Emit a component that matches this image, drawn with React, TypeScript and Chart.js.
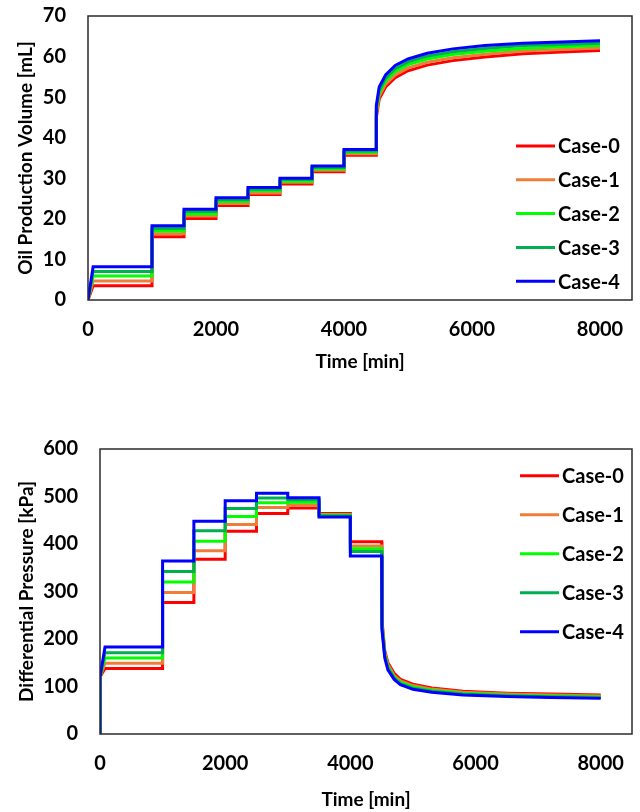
import React, { useEffect, useRef } from "react";
import { Chart, registerables } from "chart.js";

Chart.register(...registerables);

// ---------- data ----------
const caseLabels = ["Case-0", "Case-1", "Case-2", "Case-3", "Case-4"];
const caseColors = ["#FF0000", "#F07C3A", "#00FF00", "#00B050", "#0000FF"];

// plateau boundaries (min)
const stepBounds = [80, 1000, 1500, 2000, 2500, 3000, 3500, 4000, 4500];

// Oil production volume [mL] – plateau values per step
const oilCase0Steps = [3.5, 15.6, 20.1, 23.3, 26.0, 28.6, 31.6, 35.7];
const oilCase1Steps = [4.7, 16.3, 20.7, 23.8, 26.4, 29.0, 31.95, 36.05];
const oilCase2Steps = [5.9, 17.0, 21.2, 24.3, 26.9, 29.3, 32.3, 36.4];
const oilCase3Steps = [7.0, 17.6, 21.8, 24.7, 27.3, 29.7, 32.65, 36.75];
const oilCase4Steps = [8.2, 18.3, 22.35, 25.2, 27.7, 30.0, 33.0, 37.1];

// Oil production tail after 4500 min
const oilTailTime = [4505, 4550, 4650, 4800, 5000, 5300, 5700, 6200, 6800, 7400, 8000];
const oilCase0Tail = [45.0, 49.5, 52.5, 54.8, 56.5, 57.9, 59.0, 59.9, 60.7, 61.1, 61.5];
const oilCase1Tail = [45.8, 50.2, 53.2, 55.5, 57.2, 58.6, 59.7, 60.6, 61.35, 61.75, 62.1];
const oilCase2Tail = [46.5, 51.0, 54.0, 56.3, 58.0, 59.4, 60.5, 61.3, 62.0, 62.4, 62.7];
const oilCase3Tail = [47.2, 51.7, 54.7, 57.0, 58.7, 60.1, 61.2, 62.0, 62.7, 63.0, 63.3];
const oilCase4Tail = [48.0, 52.5, 55.5, 57.8, 59.4, 60.8, 61.9, 62.7, 63.3, 63.6, 63.9];

// Differential pressure [kPa] – plateau values per step
const dpCase0Steps = [138, 277, 368, 427, 464, 476, 464, 405];
const dpCase1Steps = [149, 298, 386, 441, 477, 482, 462, 396];
const dpCase2Steps = [160, 320, 406, 458, 487, 488, 461, 390];
const dpCase3Steps = [171, 342, 428, 475, 497, 493, 459, 384];
const dpCase4Steps = [183, 364, 448, 491, 507, 497.5, 457, 375];
const dpStartValues = [0, 120];

// Differential pressure tail after 4500 min
const dpTailTime = [4505, 4550, 4600, 4700, 4800, 5000, 5300, 5800, 6500, 7200, 8000];
const dpCase0Tail = [240, 175, 150, 128, 115, 105, 97, 90, 86, 84, 82];
const dpCase1Tail = [235, 171, 146, 123, 112, 102, 94.5, 88, 84, 82, 80.2];
const dpCase2Tail = [230, 167, 142, 120, 109, 99, 92, 86, 82, 80, 78.5];
const dpCase3Tail = [225, 164, 139, 118, 106, 96.5, 90, 84, 80.5, 78.5, 76.8];
const dpCase4Tail = [220, 160, 135, 115, 104, 94, 88, 82, 79, 77, 75];

// axes
const xTickValues = [0, 2000, 4000, 6000, 8000];
const xMax = 8500;
const oilYTicks = [0, 10, 20, 30, 40, 50, 60, 70];
const dpYTicks = [0, 100, 200, 300, 400, 500, 600];

const oilSteps = [oilCase0Steps, oilCase1Steps, oilCase2Steps, oilCase3Steps, oilCase4Steps];
const oilTails = [oilCase0Tail, oilCase1Tail, oilCase2Tail, oilCase3Tail, oilCase4Tail];
const dpSteps = [dpCase0Steps, dpCase1Steps, dpCase2Steps, dpCase3Steps, dpCase4Steps];
const dpTails = [dpCase0Tail, dpCase1Tail, dpCase2Tail, dpCase3Tail, dpCase4Tail];

type Pt = { x: number; y: number };

function buildSeries(start: number[], steps: number[], tailT: number[], tailV: number[]): Pt[] {
  const pts: Pt[] = start.map((v) => ({ x: 0, y: v }));
  for (let i = 0; i < steps.length; i++) {
    pts.push({ x: stepBounds[i], y: steps[i] });
    pts.push({ x: stepBounds[i + 1], y: steps[i] });
  }
  for (let i = 0; i < tailT.length; i++) pts.push({ x: tailT[i], y: tailV[i] });
  return pts;
}

const FONT = 'Lato, "Liberation Sans", Arial, sans-serif';

type LegendOpts = {
  lineFromRight: number;
  lineToRight: number;
  textFromRight: number;
  firstRowFromTop: number;
  rowGap: number;
};

const framePlugin = {
  id: "frameAndLegend",
  afterDatasetsDraw(chart: any, _args: any, opts: any) {
    const { ctx, chartArea } = chart;
    ctx.save();
    ctx.strokeStyle = "#2b2b2b";
    ctx.lineWidth = 1.5;
    ctx.strokeRect(chartArea.left, chartArea.top, chartArea.right - chartArea.left, chartArea.bottom - chartArea.top);
    const lg: LegendOpts = opts.legend;
    if (lg) {
      ctx.font = `bold 20px ${FONT}`;
      ctx.textBaseline = "middle";
      ctx.textAlign = "left";
      caseLabels.forEach((label, i) => {
        const y = chartArea.top + lg.firstRowFromTop + i * lg.rowGap;
        ctx.strokeStyle = caseColors[i];
        ctx.lineWidth = 3;
        ctx.beginPath();
        ctx.moveTo(chartArea.right - lg.lineFromRight, y);
        ctx.lineTo(chartArea.right - lg.lineToRight, y);
        ctx.stroke();
        ctx.fillStyle = "#000";
        ctx.fillText(label, chartArea.right - lg.textFromRight, y + 1);
      });
    }
    ctx.restore();
  },
};

type ChartSpec = {
  steps: number[][];
  tails: number[][];
  tailTime: number[];
  start: number[];
  yTicks: number[];
  yTitle: string;
  yWidth: number;
  yTitlePad: number;
  padTop: number;
  padRight: number;
  xHeight: number;
  xTitlePad: number;
  legend: LegendOpts;
};

function makeConfig(s: ChartSpec): any {
  const datasets = caseLabels.map((label, i) => ({
    label,
    data: buildSeries(s.start, s.steps[i], s.tailTime, s.tails[i]),
    borderColor: caseColors[i],
    backgroundColor: caseColors[i],
    borderWidth: 3,
    pointRadius: 0,
    tension: 0,
    fill: false,
    order: caseLabels.length - 1 - i,
  }));
  const tickFont = { family: FONT, size: 20, weight: "bold" };
  const titleFont = { family: FONT, size: 19, weight: "bold" };
  const zeroPad = (scale: any) => {
    scale.paddingTop = 0;
    scale.paddingBottom = 0;
    scale.paddingLeft = 0;
    scale.paddingRight = 0;
  };
  return {
    type: "line",
    data: { datasets },
    plugins: [framePlugin],
    options: {
      animation: false,
      responsive: false,
      parsing: false,
      layout: { padding: { top: s.padTop, right: s.padRight, left: 0, bottom: 0 } },
      plugins: {
        legend: { display: false },
        tooltip: { enabled: false },
        frameAndLegend: { legend: s.legend },
      },
      scales: {
        x: {
          type: "linear",
          min: 0,
          max: xMax,
          grid: { display: false, drawTicks: false },
          border: { display: false },
          afterBuildTicks: (scale: any) => {
            scale.ticks = xTickValues.map((v) => ({ value: v }));
          },
          ticks: {
            padding: 18,
            color: "#000",
            font: tickFont,
            maxRotation: 0,
            autoSkip: false,
            callback: (v: any) => String(v),
          },
          title: {
            display: true,
            text: "Time [min]",
            color: "#000",
            font: titleFont,
            padding: { top: 0, bottom: s.xTitlePad },
          },
          afterFit: (scale: any) => {
            scale.height = s.xHeight;
            zeroPad(scale);
          },
        },
        y: {
          type: "linear",
          min: s.yTicks[0],
          max: s.yTicks[s.yTicks.length - 1],
          grid: { display: false, drawTicks: false },
          border: { display: false },
          afterBuildTicks: (scale: any) => {
            scale.ticks = s.yTicks.map((v) => ({ value: v }));
          },
          ticks: {
            padding: 22,
            color: "#000",
            font: tickFont,
            autoSkip: false,
            callback: (v: any) => String(v),
          },
          title: {
            display: true,
            text: s.yTitle,
            color: "#000",
            font: titleFont,
            padding: { top: s.yTitlePad, bottom: 0 },
          },
          afterFit: (scale: any) => {
            scale.width = s.yWidth;
            zeroPad(scale);
          },
        },
      },
    },
  };
}

function LineChart({ spec, width, height }: { spec: ChartSpec; width: number; height: number }) {
  const ref = useRef<HTMLCanvasElement | null>(null);
  useEffect(() => {
    if (!ref.current) return;
    const chart = new Chart(ref.current, makeConfig(spec));
    return () => chart.destroy();
  }, [spec]);
  return <canvas ref={ref} width={width} height={height} style={{ display: "block", width, height }} />;
}

const oilSpec: ChartSpec = {
  steps: oilSteps,
  tails: oilTails,
  tailTime: oilTailTime,
  start: [0],
  yTicks: oilYTicks,
  yTitle: "Oil Production Volume [mL]",
  yWidth: 88,
  yTitlePad: 14.5,
  padTop: 16,
  padRight: 8,
  xHeight: 78,
  xTitlePad: 4.5,
  legend: { lineFromRight: 116, lineToRight: 77, textFromRight: 74, firstRowFromTop: 130, rowGap: 33.8 },
};

const dpSpec: ChartSpec = {
  steps: dpSteps,
  tails: dpTails,
  tailTime: dpTailTime,
  start: dpStartValues,
  yTicks: dpYTicks,
  yTitle: "Differential Pressure [kPa]",
  yWidth: 100,
  yTitlePad: 15.5,
  padTop: 29,
  padRight: 8,
  xHeight: 78,
  xTitlePad: 0.5,
  legend: { lineFromRight: 112, lineToRight: 73, textFromRight: 70, firstRowFromTop: 26.7, rowGap: 39 },
};

export default function App() {
  return (
    <div style={{ position: "absolute", left: 0, top: 0, width: 640, height: 812, background: "#fff" }}>
      <div style={{ position: "absolute", left: 0, top: 0 }}>
        <LineChart spec={oilSpec} width={640} height={378} />
      </div>
      <div style={{ position: "absolute", left: 0, top: 420 }}>
        <LineChart spec={dpSpec} width={640} height={392} />
      </div>
    </div>
  );
}
